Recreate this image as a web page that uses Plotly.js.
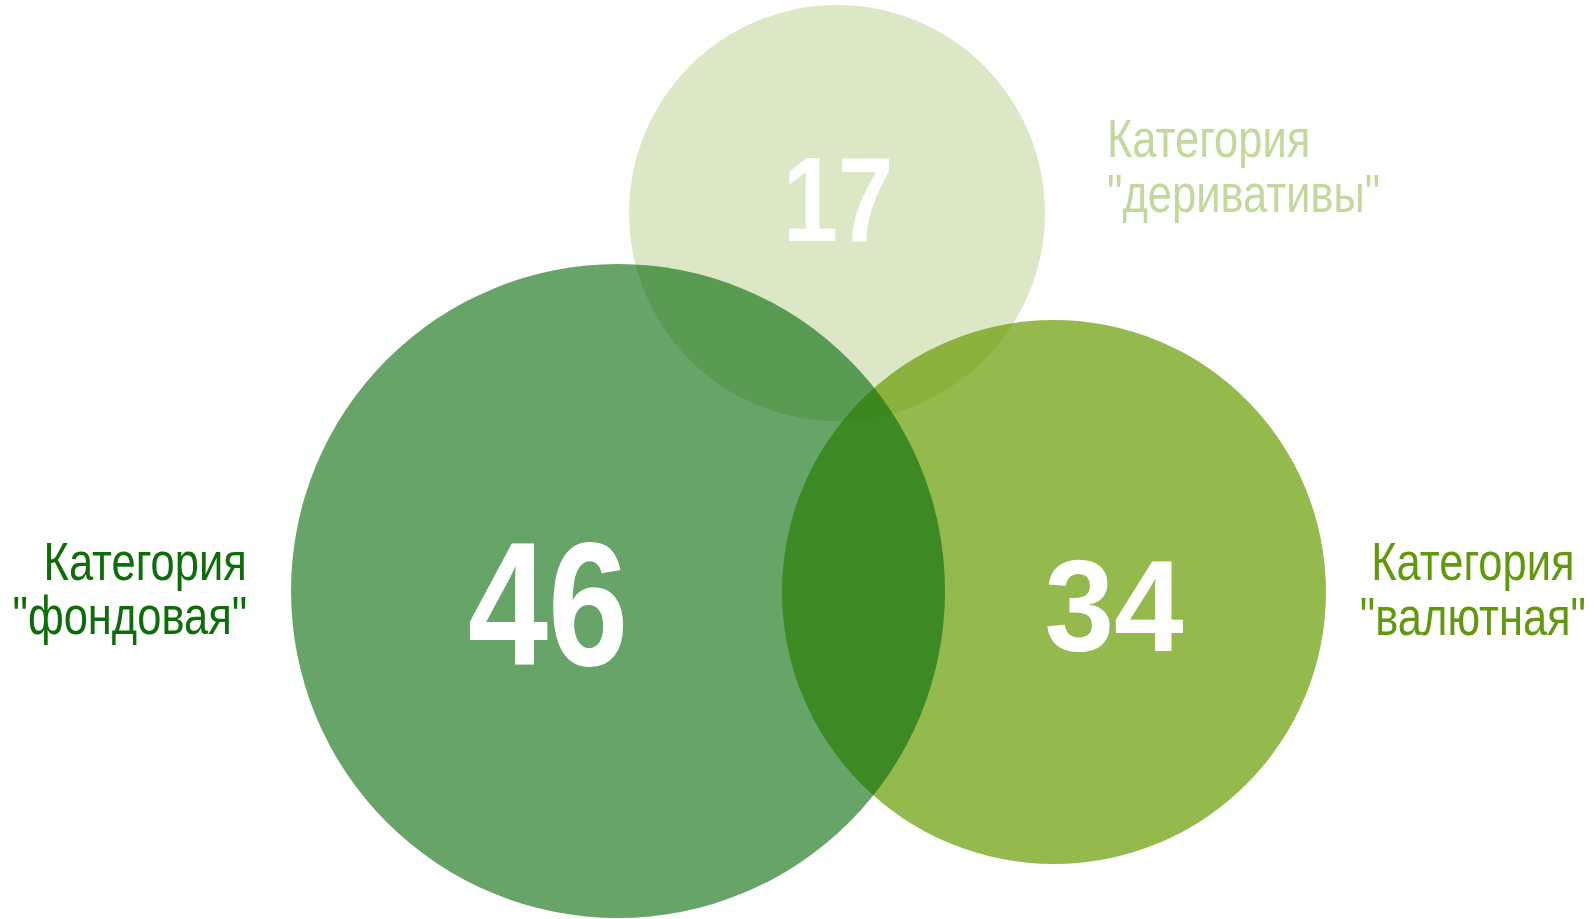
<!DOCTYPE html>
<html>
<head>
<meta charset="utf-8">
<script src="https://cdn.plot.ly/plotly-3.0.1.min.js"></script>
<style>
  html, body { margin: 0; padding: 0; background: #ffffff; }
  #chart { width: 1594px; height: 919px; }
</style>
</head>
<body>
<div id="chart"></div>
<script>
// ---- data ----
const categories = ['фондовая', 'валютная', 'деривативы'];
const counts = [46, 34, 17];
const labelPrefix = 'Категория';

// ---- geometry / styling (pixels of the 1594x919 canvas) ----
const circleCX = [618, 1054, 837];
const circleCY = [591, 592, 213];
const circleR = [327, 272, 208];
const circleRGB = ['8,108,12', '103,155,2', '196,216,158'];
const circleAlpha = [0.62, 0.7, 0.6];
const drawOrder = [2, 1, 0];   // top circle first, then right, then left

const numberX = [548, 1114, 838];
const numberY = [621, 619, 211];
const numberSize = [176, 129, 121];
const numberWidthFactor = [0.82, 0.97, 0.82];

const labelColor = ['rgb(14,108,10)', 'rgb(98,152,14)', 'rgb(196,216,158)'];
const labelX = [248, 1473, 1106];
const labelAnchor = ['right', 'center', 'left'];
const labelBaseline1 = [580, 580, 157];
const labelBaseline2 = [634, 635, 212];
const labelSize = 53;
const labelWidthFactor = 0.82;   // emulate the narrow face of the original

const fontFamily = '"Liberation Sans", Arial, sans-serif';

const shapes = drawOrder.map(i => ({
  type: 'circle', xref: 'x', yref: 'y', layer: 'below',
  x0: circleCX[i] - circleR[i], x1: circleCX[i] + circleR[i],
  y0: circleCY[i] - circleR[i], y1: circleCY[i] + circleR[i],
  fillcolor: 'rgba(' + circleRGB[i] + ',' + circleAlpha[i] + ')',
  line: { width: 0 }
}));

const annotations = [];
categories.forEach((cat, i) => {
  const lines = [labelPrefix, '"' + cat + '"'];
  const bases = [labelBaseline1[i], labelBaseline2[i]];
  lines.forEach((t, k) => {
    annotations.push({
      text: t, xref: 'x', yref: 'y',
      x: labelX[i], y: bases[k] - 0.3465 * labelSize,
      xanchor: labelAnchor[i], yanchor: 'middle', align: labelAnchor[i],
      showarrow: false, borderpad: 0,
      font: { family: fontFamily, size: labelSize, color: labelColor[i] }
    });
  });
});

const numberTrace = {
  type: 'scatter', mode: 'text',
  x: numberX, y: numberY,
  text: counts.map(String),
  textposition: 'middle center',
  textfont: { family: fontFamily, size: numberSize, color: '#ffffff', weight: 'bold' },
  hoverinfo: 'skip', showlegend: false, cliponaxis: false
};

const layout = {
  width: 1594, height: 919,
  margin: { l: 0, r: 0, t: 0, b: 0, pad: 0 },
  paper_bgcolor: '#ffffff', plot_bgcolor: '#ffffff',
  xaxis: { range: [0, 1594], visible: false, fixedrange: true },
  yaxis: { range: [919, 0], visible: false, fixedrange: true },
  shapes: shapes,
  annotations: annotations,
  showlegend: false
};

function squeeze(el, f) {
  el.removeAttribute('textLength');
  el.removeAttribute('lengthAdjust');
  const w = el.getComputedTextLength();
  el.setAttribute('textLength', (w * f).toFixed(1));
  el.setAttribute('lengthAdjust', 'spacingAndGlyphs');
}

function condense(gd) {
  gd.querySelectorAll('.annotation').forEach(g => {
    const t = g.querySelector('.annotation-text');
    if (!t) return;
    const bg = g.querySelector('rect.bg');
    const x = parseFloat(bg.getAttribute('x') || 0);
    const w = parseFloat(bg.getAttribute('width') || 0);
    const anchor = t.getAttribute('text-anchor');
    squeeze(t, labelWidthFactor);
    const nw = w * labelWidthFactor;
    let nx = x;
    if (anchor === 'end') nx = x + w - nw;
    else if (anchor === 'middle') nx = x + (w - nw) / 2;
    bg.setAttribute('x', nx.toFixed(1));
    bg.setAttribute('width', nw.toFixed(1));
  });
  gd.querySelectorAll('.textpoint text').forEach((el, i) => {
    squeeze(el, numberWidthFactor[i] !== undefined ? numberWidthFactor[i] : 0.82);
  });
}

const gd = document.getElementById('chart');
Plotly.newPlot(gd, [numberTrace], layout, { displayModeBar: false, staticPlot: true })
  .then(() => condense(gd));
</script>
</body>
</html>
